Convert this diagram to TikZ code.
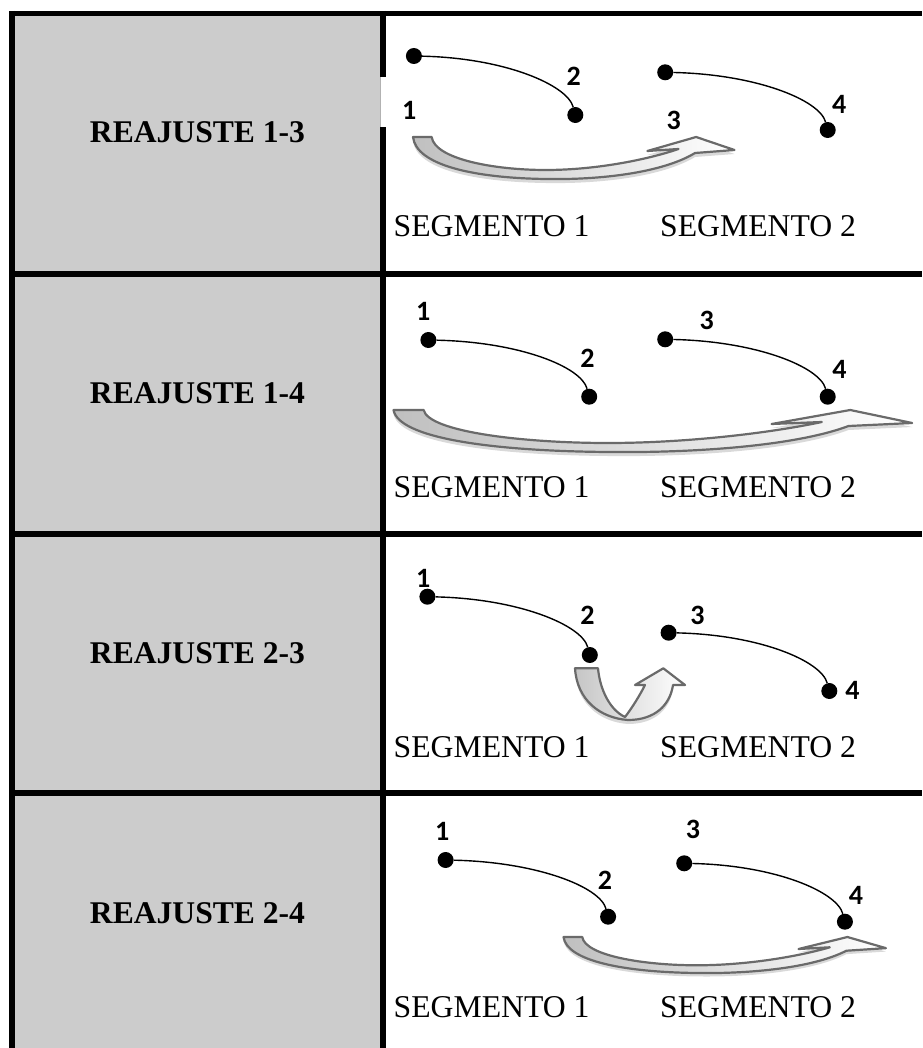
\documentclass[tikz,border=0pt]{standalone}
\usepackage{fontspec}
\setmainfont{Liberation Serif}
\newfontfamily\numfont{Carlito}[BoldFont={Carlito Bold}]
\definecolor{cellgray}{HTML}{CCCCCC}
\definecolor{arrowline}{HTML}{6A6A6A}
\newcommand{\bandarrow}[4]{%
\begin{scope}[shift={(#1,#2)}, xscale=#3, yscale=#4]
 \fill[gray!30] (0,4) -- (18,4) .. controls (21,26) and (78,37) .. (128,37) .. controls (178,37) and (228,26) .. (256,16) -- (226,18) -- (273,4) -- (310,17) -- (272,20) .. controls (240,40) and (180,47) .. (128,46) .. controls (58,45) and (3,32) .. (0,4) -- cycle;
 \shade[left color=gray!50, right color=white, draw=arrowline, line width=2.2pt, line join=round] (0,0) -- (18,0) .. controls (21,22) and (78,33) .. (128,33) .. controls (178,33) and (228,22) .. (256,12) -- (226,14) -- (273,0) -- (310,13) -- (272,16) .. controls (240,36) and (180,43) .. (128,42) .. controls (58,41) and (3,28) .. (0,0) -- cycle;
\end{scope}}
\tikzset{
  dotnode/.style={circle, fill=black, inner sep=0pt, minimum size=16pt},
  num/.style={font=\fontsize{28}{28}\selectfont\numfont\bfseries, inner sep=0pt},
  seg/.style={font=\fontsize{31.7}{34}\selectfont, anchor=base west, inner sep=0pt},
  rowtitle/.style={font=\bfseries\fontsize{31.6}{34}\selectfont, anchor=base, inner sep=0pt},
  link/.style={line width=1.4pt},
  border/.style={line width=6pt}
}
\begin{document}
\begin{tikzpicture}[x=1pt, y=-1pt]
\useasboundingbox (0,0) rectangle (922,1048);
% grey column
\fill[cellgray] (12,14) rectangle (383,1048);
% borders
\draw[border] (12,11) -- (12,1048);
\draw[line width=5pt] (9,13.5) -- (922,13.5);
\draw[border] (383,11) -- (383,1048);
\draw[border] (9,274) -- (922,274);
\draw[border] (9,534) -- (922,534);
\draw[border] (9,793) -- (922,793);
% notch artifact
\fill[white] (380.5,77) rectangle (386.5,127);
\draw[gray!60, line width=0.6pt] (380.7,77) -- (380.7,127);

% titles
\node[rowtitle] (t1) at (197.5,143) {REAJUSTE 1-3};
\node[rowtitle] (t2) at (197.5,403) {REAJUSTE 1-4};
\node[rowtitle] (t3) at (197.5,663) {REAJUSTE 2-3};
\node[rowtitle] (t4) at (197.5,923) {REAJUSTE 2-4};

% segment labels
\node[seg] (s11) at (393.5,237) {SEGMENTO 1};
\node[seg] (s12) at (660,237) {SEGMENTO 2};
\node[seg] (s21) at (393.5,497) {SEGMENTO 1};
\node[seg] (s22) at (660,497) {SEGMENTO 2};
\node[seg] (s31) at (393.5,757) {SEGMENTO 1};
\node[seg] (s32) at (660,757) {SEGMENTO 2};
\node[seg] (s41) at (393.5,1017) {SEGMENTO 1};
\node[seg] (s42) at (660,1017) {SEGMENTO 2};

% ---- Row 1 ----
\bandarrow{413}{137}{1.037}{1}
\node[dotnode] (a1) at (413.9,56) {};
\node[dotnode] (a2) at (575.3,115) {};
\node[dotnode] (a3) at (665.2,72.3) {};
\node[dotnode] (a4) at (827.7,130) {};
\draw[link] (a1) .. controls +(91,2) and +(-8,-30) .. (a2);
\draw[link] (a3) .. controls +(91,2) and +(-8,-30) .. (a4);
\node[num] (na1) at (409.3,110) {1};
\node[num] (na2) at (573.7,76) {2};
\node[num] (na3) at (673.8,120.7) {3};
\node[num] (na4) at (839.1,104) {4};

% ---- Row 2 ----
\bandarrow{393.5}{410}{1.673}{1}
\node[dotnode] (b1) at (428.4,340) {};
\node[dotnode] (b2) at (589.2,396.7) {};
\node[dotnode] (b3) at (665.2,339.3) {};
\node[dotnode] (b4) at (827.7,396.7) {};
\draw[link] (b1) .. controls +(91,2) and +(-8,-30) .. (b2);
\draw[link] (b3) .. controls +(91,2) and +(-8,-30) .. (b4);
\node[num] (nb1) at (423.2,311.7) {1};
\node[num] (nb2) at (587.4,358) {2};
\node[num] (nb3) at (706.8,320) {3};
\node[num] (nb4) at (839.4,369) {4};

% ---- Row 3 ----
\fill[gray!30] (575,672) -- (598,672) .. controls (600,694) and (610,714) .. (625,721) .. controls (632,712) and (640,699) .. (645,689) -- (673,689) .. controls (670,709) and (655,724) .. (628,724) .. controls (600,722) and (577,704) .. (575,672) -- cycle;
\shade[left color=gray!45, right color=white, draw=arrowline, line width=2.2pt, line join=round]
  (575,668.3) -- (598,668.3) .. controls (600,690) and (610,710) .. (625,717)
  .. controls (632,708) and (640,695) .. (645,685) -- (635,685) -- (663.3,668.3) -- (685,685) -- (673,685)
  .. controls (670,705) and (655,720) .. (628,720) .. controls (600,718) and (577,700) .. (575,668.3) -- cycle;
\node[dotnode] (c1) at (427.4,596.7) {};
\node[dotnode] (c2) at (589.8,655) {};
\node[dotnode] (c3) at (668.6,632.7) {};
\node[dotnode] (c4) at (829.3,691) {};
\draw[link] (c1) .. controls +(91,2) and +(-8,-30) .. (c2);
\draw[link] (c3) .. controls +(91,2) and +(-8,-30) .. (c4);
\node[num] (nc1) at (423.2,578) {1};
\node[num] (nc2) at (587.4,615) {2};
\node[num] (nc3) at (697.4,615) {3};
\node[num] (nc4) at (852.4,690) {4};

% ---- Row 4 ----
\bandarrow{563.5}{937}{1.04}{0.857}
\node[dotnode] (e1) at (445.6,860) {};
\node[dotnode] (e2) at (608.1,916.7) {};
\node[dotnode] (e3) at (684.2,863.3) {};
\node[dotnode] (e4) at (844.9,921.7) {};
\draw[link] (e1) .. controls +(91,2) and +(-8,-30) .. (e2);
\draw[link] (e3) .. controls +(91,2) and +(-8,-30) .. (e4);
\node[num] (ne1) at (442.2,831.7) {1};
\node[num] (ne2) at (605,880) {2};
\node[num] (ne3) at (692.9,829.3) {3};
\node[num] (ne4) at (856,895) {4};
\end{tikzpicture}
\end{document}
